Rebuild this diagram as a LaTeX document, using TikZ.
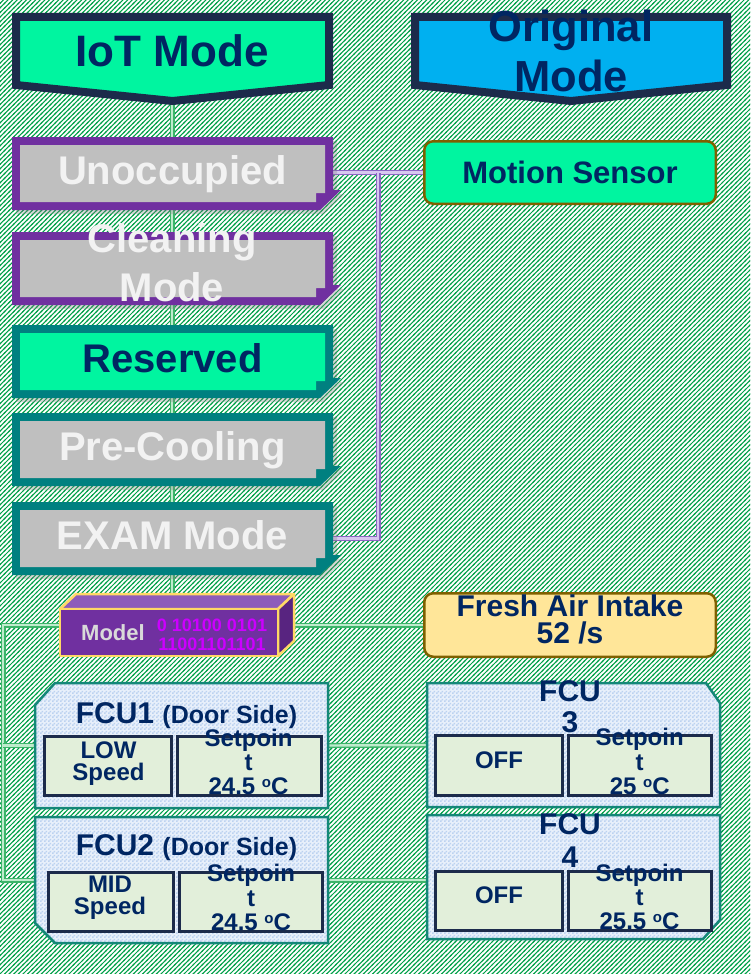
\documentclass[tikz,border=0pt]{standalone}
\usepackage{fontspec}
\setmainfont{Liberation Sans}
\usetikzlibrary{patterns,shadows}
\pgfdeclarelayer{bg}\pgfdeclarelayer{conn}\pgfdeclarelayer{boxes}
\pgfsetlayers{bg,conn,boxes,main}
\definecolor{navyb}{RGB}{28,43,75}
\definecolor{navyt}{RGB}{0,38,98}
\definecolor{mint}{RGB}{0,245,160}
\definecolor{sky}{RGB}{0,176,240}
\definecolor{purp}{RGB}{112,48,160}
\definecolor{greyf}{RGB}{191,191,191}
\definecolor{whitet}{RGB}{242,242,242}
\definecolor{teal2}{RGB}{0,128,128}
\definecolor{brown2}{RGB}{127,96,0}
\definecolor{lyel}{RGB}{255,230,153}
\definecolor{yedge}{RGB}{255,217,102}
\definecolor{mag}{RGB}{204,0,255}
\definecolor{mtext}{RGB}{217,217,217}
\definecolor{mtop}{RGB}{142,92,186}
\definecolor{mside}{RGB}{88,36,128}
\definecolor{fcub}{RGB}{20,135,120}
\definecolor{fcuA}{RGB}{232,240,251}
\definecolor{fcuB}{RGB}{188,210,240}
\definecolor{inf}{RGB}{226,239,218}
\definecolor{hatch}{RGB}{0,160,72}
\definecolor{gline}{RGB}{60,180,105}
\definecolor{gfill}{RGB}{190,235,205}
\definecolor{pline}{RGB}{140,100,195}
\definecolor{pfill}{RGB}{215,200,240}
\pgfdeclarepatternformonly{hatchp}{\pgfqpoint{-1pt}{-1pt}}{\pgfqpoint{5.6pt}{5.6pt}}{\pgfqpoint{4.6pt}{4.6pt}}{\pgfsetlinewidth{1.05pt}\pgfpathmoveto{\pgfqpoint{-1pt}{-1pt}}\pgfpathlineto{\pgfqpoint{5.6pt}{5.6pt}}\pgfusepath{stroke}}
\pgfdeclarepatternformonly{fcuchk}{\pgfqpoint{0pt}{0pt}}{\pgfqpoint{4pt}{4pt}}{\pgfqpoint{4pt}{4pt}}{\pgfpathrectangle{\pgfqpoint{0pt}{0pt}}{\pgfqpoint{2pt}{2pt}}\pgfpathrectangle{\pgfqpoint{2pt}{2pt}}{\pgfqpoint{2pt}{2pt}}\pgfusepath{fill}}
\newcommand\fsz[2]{\fontsize{#1}{#2}\selectfont\bfseries}
\newcommand\degc{\raisebox{7pt}{\fontsize{15}{15}\selectfont o}C}
\newcommand\mbshape[3]{%
  \fill[#2, drop shadow={opacity=0.3,shadow xshift=4pt,shadow yshift=-4pt}]
    (12,#1) -- (333,#1) -- (333,#1+53) -- (341,#1+53) -- (320,#1+73) -- (12,#1+73) -- cycle;
  \fill[#3] (20,#1+8) -- (325,#1+8) -- (325,#1+56) -- (316,#1+56) -- (316,#1+65) -- (20,#1+65) -- cycle;}
\begin{document}
\begin{tikzpicture}[x=1pt,y=-1pt,
  txt/.style={inner sep=0pt, text=navyt},
  banner/.style={draw=navyb, line width=8pt, line join=miter},
  mode/.style={minimum width=321pt, minimum height=73pt, inner sep=0pt, text height=29pt, text depth=8pt, font=\fsz{40}{48}},
  gconn/.style={draw=gline, line width=1.3pt, double=gfill, double distance=2.4pt},
  pconn/.style={draw=pline, line width=1.3pt, double=pfill, double distance=2.4pt},
  fcubox/.style={draw=fcub, line width=2.5pt, line join=miter, preaction={fill=fcuA}, pattern=fcuchk, pattern color=fcuB},
  inbox/.style={draw=navyb, line width=3pt, fill=inf, inner sep=0pt},
  hold/.style={inner sep=0pt},
  small/.style={txt, font=\fsz{24}{24}, align=center},
]
\useasboundingbox (0,0) rectangle (750,974);
\begin{pgfonlayer}{bg}
  \fill[white] (0,0) rectangle (750,974);
  \fill[pattern=hatchp, pattern color=hatch] (0,0) rectangle (750,974);
\end{pgfonlayer}

\begin{pgfonlayer}{boxes}
  \filldraw[banner, fill=mint] (16,17) -- (329,17) -- (329,85) -- (172.5,101) -- (16,85) -- cycle;
  \filldraw[banner, fill=sky] (415,17) -- (727,17) -- (727,85) -- (571,101) -- (415,85) -- cycle;
  \mbshape{137}{purp}{greyf}
  \mbshape{232}{purp}{greyf}
  \mbshape{325}{teal2}{mint}
  \mbshape{413}{teal2}{greyf}
  \mbshape{502}{teal2}{greyf}
  \filldraw[draw=yedge, line width=2.5pt, line join=round, fill=mtop] (60,609) -- (76,594) -- (294,594) -- (278,609) -- cycle;
  \filldraw[draw=yedge, line width=2.5pt, line join=round, fill=mside] (278,609) -- (294,594) -- (294,641) -- (278,656) -- cycle;
  \filldraw[draw=yedge, line width=2.5pt, line join=round, fill=purp] (60,609) rectangle (278,656);
  \path[fcubox] (35,705) -- (55,683) -- (328,683) -- (328,808) -- (35,808) -- cycle;
  \path[fcubox] (35,817) -- (328,817) -- (328,943) -- (55,943) -- (35,923) -- cycle;
  \path[fcubox] (427,683) -- (706,683) -- (720,703) -- (720,807) -- (427,807) -- cycle;
  \path[fcubox] (427,815) -- (720,815) -- (720,920) -- (703,939) -- (427,939) -- cycle;
\end{pgfonlayer}

\node[txt, font=\fsz{44}{50}] (iot) at (172,51) {IoT Mode};
\node[txt, font=\fsz{43.5}{50}, align=center] (orig) at (571,51.2) {Original\\Mode};

\node[mode, text=whitet] (unocc) at (172.5,173.5) {Unoccupied};
\node[inner sep=0pt, text=whitet, font=\fsz{40}{49}, align=center] (clean) at (172,263) {Cleaning\\Mode};
\node[mode, text=navyt] (resv) at (172.5,361.5) {Reserved};
\node[mode, text=whitet] (precool) at (172.5,449.5) {Pre-Cooling};
\node[mode, text=whitet] (exam) at (172.5,538.5) {EXAM Mode};

\node[draw=brown2, line width=2.5pt, fill=mint, rounded corners=9pt, minimum width=291.5pt, minimum height=62.5pt, inner sep=0pt, text=navyt, font=\fsz{31}{31}] (motion) at (570,172.5) {Motion Sensor};

\node[draw=brown2, line width=2.5pt, fill=lyel, rounded corners=9pt, minimum width=291.5pt, minimum height=63.5pt, inner sep=0pt] (fresh) at (570,625) {};
\node[txt, font=\fsz{30}{27}, align=center] (freshtxt) at (570,619.5) {Fresh Air Intake\\52 /s};

\node[hold, minimum width=218pt, minimum height=47pt] (model) at (169,632.5) {};
\node[inner sep=0pt, anchor=base, text=mtext, font=\fsz{22}{22}] (modellbl) at (113,640) {Model};
\node[inner sep=0pt, text=mag, font=\fsz{18}{19}, align=center] (modelbits) at (212,635) {0 10100 0101\\11001101101};

\node[hold, minimum width=293pt, minimum height=125pt] (fcu1) at (181.5,745.5) {};
\node[hold, minimum width=293pt, minimum height=126pt] (fcu2) at (181.5,880) {};
\node[hold, minimum width=293pt, minimum height=124pt] (fcu3) at (573.5,745) {};
\node[hold, minimum width=293pt, minimum height=124pt] (fcu4) at (573.5,877) {};

\node[inbox, minimum width=127pt, minimum height=59pt] (low1) at (108,766) {};
\node[inbox, minimum width=144pt, minimum height=59pt] (sp1) at (249.5,766) {};
\node[inbox, minimum width=125pt, minimum height=59pt] (mid2) at (111,902) {};
\node[inbox, minimum width=143pt, minimum height=59pt] (sp2) at (251,902) {};
\node[inbox, minimum width=127pt, minimum height=60pt] (off3) at (499,765.5) {};
\node[inbox, minimum width=143pt, minimum height=60pt] (sp3) at (640,765.5) {};
\node[inbox, minimum width=127pt, minimum height=59pt] (off4) at (499,901) {};
\node[inbox, minimum width=143pt, minimum height=59pt] (sp4) at (640,901) {};

\node[txt, anchor=base] (fcu1t) at (186.5,723) {\fsz{30}{30}FCU1 \fsz{25}{25}(Door Side)};
\node[txt, anchor=base] (fcu2t) at (186.5,855) {\fsz{30}{30}FCU2 \fsz{25}{25}(Door Side)};
\node[txt, font=\fsz{30}{31}, align=center] (fcu3t) at (570,706.5) {FCU\\3};
\node[txt, font=\fsz{30}{33}, align=center] (fcu4t) at (570,840.4) {FCU\\4};

\node[small, font=\fsz{24}{22}] (low1t) at (108.5,763.5) {LOW\\Speed};
\node[small] (sp1t) at (248.5,762.4) {Setpoin\\t\\24.5 \degc};
\node[small, font=\fsz{24}{22}] (mid2t) at (110,898) {MID\\Speed};
\node[small, font=\fsz{24}{24.5}] (sp2t) at (251,897.9) {Setpoin\\t\\24.5 \degc};
\node[small, anchor=base] (off3t) at (499,768) {OFF};
\node[small, font=\fsz{24}{24.5}] (sp3t) at (639.7,761.9) {Setpoin\\t\\25 \degc};
\node[small, anchor=base] (off4t) at (499,903) {OFF};
\node[small] (sp4t) at (639.5,897.4) {Setpoin\\t\\25.5 \degc};

\coordinate (jx) at (378,0);
\coordinate (lx) at (3,0);
\begin{pgfonlayer}{conn}
  \draw[gconn] (iot.south) -- (iot.south |- model.north);
  \draw[gconn] (fresh.west) -- (fresh.west -| model.east);
  \draw[gconn] (model.west |- fresh.west) -- (lx |- fresh.west) |- (fcu2.west);
  \draw[gconn] (lx |- fcu1.west) -- (fcu1.west);
  \draw[gconn] (fcu1.east) -- (fcu3.west);
  \draw[gconn] (fcu2.east) -- (fcu2.east -| fcu4.west);
  \draw[pconn] (motion.west) -- (motion.west -| unocc.east);
  \draw[pconn] (exam.east) -| (jx |- motion.west);
\end{pgfonlayer}
\end{tikzpicture}
\end{document}
